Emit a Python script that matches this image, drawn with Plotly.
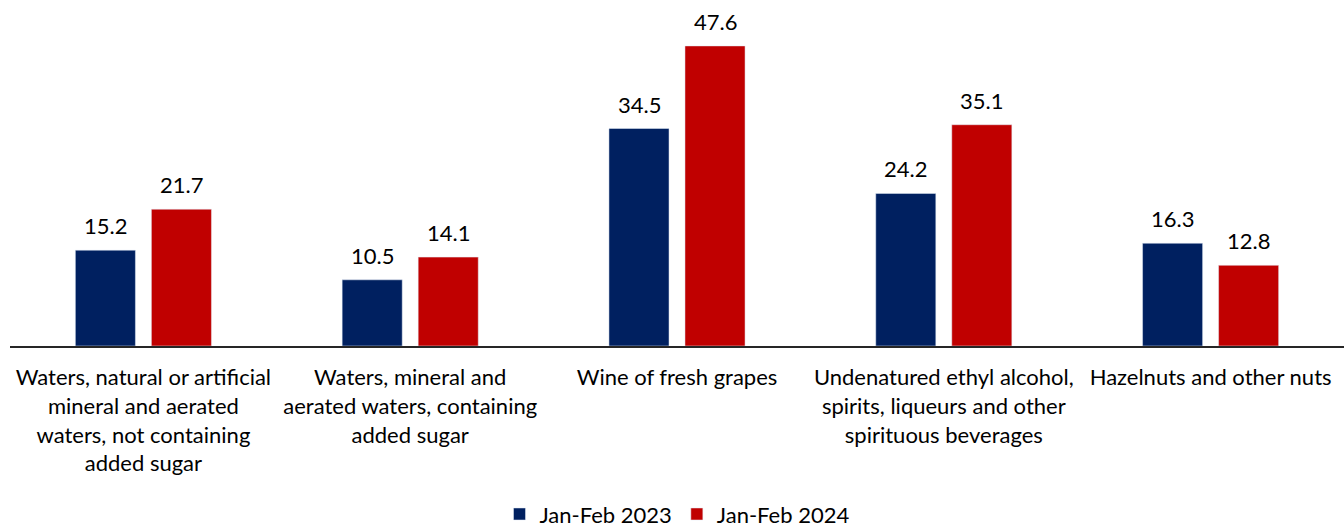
import plotly.graph_objects as go

categories = [
    "Waters, natural or artificial<br>mineral and aerated<br>waters, not containing<br>added sugar",
    "Waters, mineral and<br>aerated waters, containing<br>added sugar",
    "Wine of fresh grapes",
    "Undenatured ethyl alcohol,<br>spirits, liqueurs and other<br>spirituous beverages",
    "Hazelnuts and other nuts",
]
values_2023 = [15.2, 10.5, 34.5, 24.2, 16.3]
values_2024 = [21.7, 14.1, 47.6, 35.1, 12.8]
series_names = ["Jan-Feb 2023", "Jan-Feb 2024"]

NAVY = "#002060"
RED = "#C00000"
FONT = "Lato"
SIZE = 22

fig = go.Figure()
fig.add_trace(go.Bar(x=categories, y=values_2023, name=series_names[0],
                     marker_color=NAVY))
fig.add_trace(go.Bar(x=categories, y=values_2024, name=series_names[1],
                     marker_color=RED))

# value labels above each bar
for vals, shift in ((values_2023, -38), (values_2024, 38)):
    for cat, v in zip(categories, vals):
        fig.add_annotation(x=cat, y=v, text=f"{v:.1f}", showarrow=False,
                           xshift=shift, yshift=9, yanchor="bottom",
                           font=dict(family=FONT, size=SIZE, color="#000000"))

fig.update_layout(
    width=1344, height=529,
    margin=dict(l=10, r=0, t=10, b=183),
    paper_bgcolor="white", plot_bgcolor="white",
    barmode="group", bargap=0.43, bargroupgap=0.21,
    font=dict(family=FONT, size=SIZE, color="#000000"),
    showlegend=True,
    legend=dict(orientation="h", x=0.5, xanchor="center",
                yref="container", y=0.028, yanchor="middle",
                font=dict(family=FONT, size=SIZE), itemwidth=30),
)
fig.update_xaxes(showline=True, linecolor="#262626", linewidth=2,
                 ticks="outside", ticklen=11, tickcolor="rgba(0,0,0,0)",
                 tickfont=dict(family=FONT, size=SIZE), showgrid=False)
fig.update_yaxes(range=[0, 53.3], visible=False, showgrid=False)

fig.write_html("out.html")
